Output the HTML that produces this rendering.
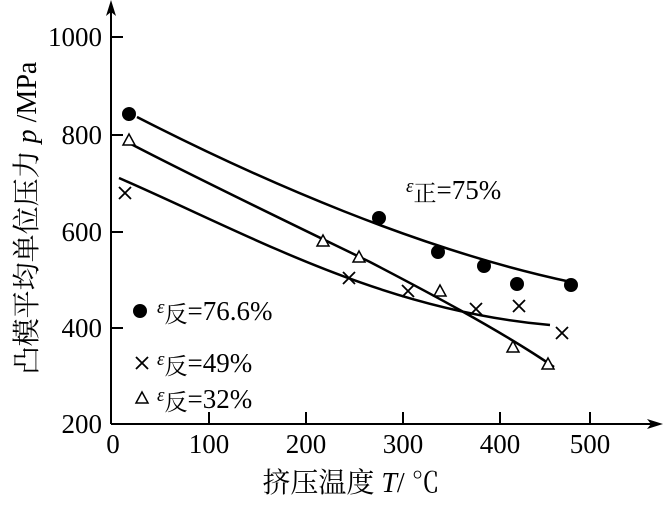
<!DOCTYPE html>
<html><head><meta charset="utf-8"><style>
body{margin:0;background:#fff}
svg, svg text, svg tspan{font-family:"Liberation Serif","Noto Serif CJK SC",serif}
</style></head><body>
<svg width="663" height="500" viewBox="0 0 663 500" font-family="Liberation Serif, Noto Serif CJK SC, serif">
<g stroke="#000" stroke-width="2" fill="none">
<line x1="111" y1="424" x2="111" y2="4"/>
<line x1="111" y1="424" x2="658" y2="424"/>
<line x1="111" y1="37" x2="123" y2="37"/>
<line x1="111" y1="135" x2="123" y2="135"/>
<line x1="111" y1="232" x2="123" y2="232"/>
<line x1="111" y1="328" x2="123" y2="328"/>
<line x1="209" y1="424" x2="209" y2="412"/>
<line x1="306" y1="424" x2="306" y2="412"/>
<line x1="403" y1="424" x2="403" y2="412"/>
<line x1="500" y1="424" x2="500" y2="412"/>
<line x1="590" y1="424" x2="590" y2="412"/>
</g>
<path d="M111 0 L106 16 L111 12 L116 16 Z" fill="#000"/>
<path d="M663 424 L647 419 L651 424 L647 429 Z" fill="#000"/>
<g font-size="27" text-anchor="end">
<text x="102" y="46">1000</text>
<text x="102" y="144">800</text>
<text x="102" y="241">600</text>
<text x="102" y="337">400</text>
<text x="102" y="433">200</text>
</g>
<g font-size="27" text-anchor="middle">
<text x="113" y="453">0</text>
<text x="209" y="453">100</text>
<text x="306" y="453">200</text>
<text x="403" y="453">300</text>
<text x="500" y="453">400</text>
<text x="590" y="453">500</text>
</g>
<text x="351" y="492" font-size="28" text-anchor="middle">挤压温度 <tspan font-style="italic">T</tspan>/ ℃</text>
<text transform="translate(36,218) rotate(-90)" font-size="28" text-anchor="middle">凸模平均单位压力 <tspan font-style="italic">p</tspan> /MPa</text>
<g stroke="#000" stroke-width="2.5" fill="none">
<path d="M137 117 C260 180 420 250 571 282"/>
<path d="M129 143 C200 180 300 228 370 262 C420 288 500 330 554 367"/>
<path d="M119 178 C250 235 380 310 550 325"/>
</g>
<g fill="#000">
<circle cx="129" cy="114" r="7"/><circle cx="379" cy="218" r="7"/><circle cx="438" cy="252" r="7"/>
<circle cx="484" cy="266" r="7"/><circle cx="517" cy="284" r="7"/><circle cx="571" cy="285" r="7"/>
<circle cx="140" cy="311" r="7"/>
</g>
<g stroke="#000" stroke-width="1.5" fill="#fff">
<path d="M129 134 L135 145 L123 145 Z"/><path d="M323 235 L329 246 L317 246 Z"/>
<path d="M359 251 L365 262 L353 262 Z"/><path d="M440 285 L446 296 L434 296 Z"/>
<path d="M513 341 L519 352 L507 352 Z"/><path d="M548 358 L554 369 L542 369 Z"/>
<path d="M142 392 L148 403 L136 403 Z"/>
</g>
<g stroke="#000" stroke-width="1.8">
<path d="M119 187 L131 199 M131 187 L119 199"/>
<path d="M343 272 L355 284 M355 272 L343 284"/>
<path d="M402 285 L414 297 M414 285 L402 297"/>
<path d="M470 303 L482 315 M482 303 L470 315"/>
<path d="M513 300 L525 312 M525 300 L513 312"/>
<path d="M556 327 L568 339 M568 327 L556 339"/>
<path d="M136 357 L148 369 M148 357 L136 369"/>
</g>
<g font-size="27">
<text x="406" y="199"><tspan font-style="italic" font-size="19" dy="-7">ε</tspan><tspan font-size="23" dy="9">正</tspan><tspan dy="-2" font-family="Liberation Serif, serif">=75%</tspan></text>
<text x="157" y="320"><tspan font-style="italic" font-size="19" dy="-7">ε</tspan><tspan font-size="23" dy="9">反</tspan><tspan dy="-2" font-family="Liberation Serif, serif">=76.6%</tspan></text>
<text x="157" y="372"><tspan font-style="italic" font-size="19" dy="-7">ε</tspan><tspan font-size="23" dy="9">反</tspan><tspan dy="-2" font-family="Liberation Serif, serif">=49%</tspan></text>
<text x="157" y="408"><tspan font-style="italic" font-size="19" dy="-7">ε</tspan><tspan font-size="23" dy="9">反</tspan><tspan dy="-2" font-family="Liberation Serif, serif">=32%</tspan></text>
</g>
</svg>
</body></html>
